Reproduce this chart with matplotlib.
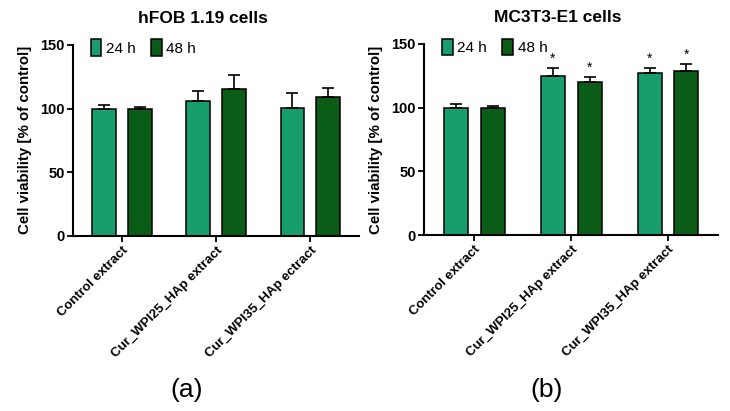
import numpy as np
import matplotlib
matplotlib.use("Agg")
import matplotlib.pyplot as plt
from matplotlib.patches import Patch

plt.rcParams["font.family"] = ["Liberation Sans", "DejaVu Sans"]

groups = ["Control extract", "Cur_WPI25_HAp extract", "Cur_WPI35_HAp ectract"]
groups_b = ["Control extract", "Cur_WPI25_HAp extract", "Cur_WPI35_HAp extract"]

# panel (a) hFOB 1.19
hfob_24 = [100, 106, 100.5]
hfob_24_err = [3, 8, 12]
hfob_48 = [100, 115, 109]
hfob_48_err = [1.5, 11, 7]

# panel (b) MC3T3-E1
mc_24 = [100, 124.5, 127]
mc_24_err = [2.5, 7, 4]
mc_48 = [100, 120.5, 128.5]
mc_48_err = [1, 3.5, 6]
mc_24_sig = [False, True, True]
mc_48_sig = [False, True, True]

c24 = "#189d6d"
c48 = "#0b5c17"

fig = plt.figure(figsize=(7.3, 4.11), dpi=100)
ax_a = fig.add_axes([0.100, 0.426, 0.392, 0.465])
ax_b = fig.add_axes([0.581, 0.428, 0.403, 0.465])

w = 0.25
off = 0.19


def draw(ax, labels, v24, e24, v48, e48, title, sig24=None, sig48=None):
    x = np.arange(len(labels))
    ax.bar(x - off, v24, w, color=c24, edgecolor="black", linewidth=1.1, zorder=2)
    ax.bar(x + off, v48, w, color=c48, edgecolor="black", linewidth=1.1, zorder=2)
    zeros = [0] * len(labels)
    ax.errorbar(x - off, v24, yerr=[zeros, e24], fmt="none", ecolor="black",
                elinewidth=1.2, capsize=4.5, capthick=1.2, zorder=3)
    ax.errorbar(x + off, v48, yerr=[zeros, e48], fmt="none", ecolor="black",
                elinewidth=1.2, capsize=4.5, capthick=1.2, zorder=3)
    if sig24:
        for xi, v, e, s in zip(x - off, v24, e24, sig24):
            if s:
                ax.text(xi, v + e + 1.5, "*", ha="center", va="bottom", fontsize=10)
    if sig48:
        for xi, v, e, s in zip(x + off, v48, e48, sig48):
            if s:
                ax.text(xi, v + e + 1.5, "*", ha="center", va="bottom", fontsize=10)

    ax.set_xlim(-0.52, 2.52)
    ax.set_ylim(0, 150)
    ax.set_yticks([0, 50, 100, 150])
    ax.set_xticks(x)
    ax.set_xticklabels(labels, rotation=45, ha="right", rotation_mode="anchor",
                       fontsize=9.5, fontweight="bold")
    for lab in ax.get_yticklabels():
        lab.set_fontweight("bold")
        lab.set_fontsize(10.5)
    ax.tick_params(direction="out", length=4, width=1.3, pad=2)
    ax.spines["top"].set_visible(False)
    ax.spines["right"].set_visible(False)
    ax.spines["left"].set_linewidth(1.5)
    ax.spines["bottom"].set_linewidth(1.5)
    ax.set_ylabel("Cell viability [% of control]", fontsize=10.8, fontweight="bold",
                  labelpad=6)
    ax.text(0.455, 1.14, title, transform=ax.transAxes, ha="center", va="center",
            fontsize=12.5, fontweight="bold")

    handles = [Patch(facecolor=c24, edgecolor="black", linewidth=1.1, label="24 h"),
               Patch(facecolor=c48, edgecolor="black", linewidth=1.1, label="48 h")]
    ax.legend(handles=handles, loc="upper left", bbox_to_anchor=(0.04, 1.06), ncol=2,
              frameon=False, fontsize=11, handlelength=0.7, handleheight=1.3,
              handletextpad=0.3, columnspacing=1.0, borderaxespad=0)


draw(ax_a, groups, hfob_24, hfob_24_err, hfob_48, hfob_48_err, "hFOB 1.19 cells")
draw(ax_b, groups_b, mc_24, mc_24_err, mc_48, mc_48_err, "MC3T3-E1 cells",
     mc_24_sig, mc_48_sig)

fig.text(187 / 730, 1 - 390 / 411, "(a)", ha="center", va="center", fontsize=19)
fig.text(547 / 730, 1 - 390 / 411, "(b)", ha="center", va="center", fontsize=19)

fig.savefig("out.png", dpi=100)
